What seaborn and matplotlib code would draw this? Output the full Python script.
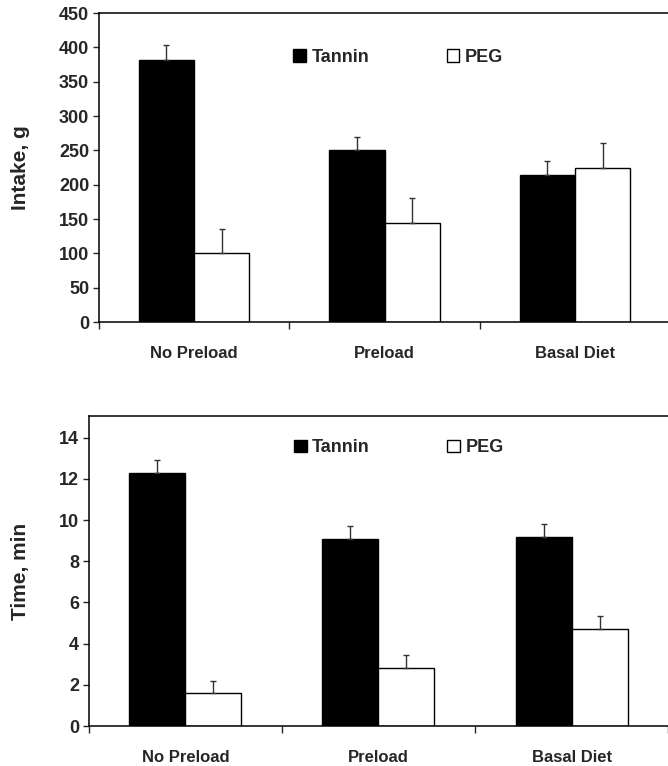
import numpy as np
import pandas as pd
import seaborn as sns
import matplotlib
matplotlib.use("Agg")
import matplotlib.pyplot as plt

# values
groups = ["No Preload", "Preload", "Basal Diet"]
treatments = ["Tannin", "PEG"]

intake_tannin = [381, 250, 214]
intake_peg = [100, 144, 225]
intake_tannin_se = [22, 20, 20]
intake_peg_se = [35, 36, 35]

time_tannin = [12.3, 9.1, 9.18]
time_peg = [1.6, 2.8, 4.72]
time_tannin_se = [0.63, 0.61, 0.63]
time_peg_se = [0.6, 0.64, 0.63]

sns.set_style("white")
plt.rcParams['font.family'] = ['Liberation Sans', 'DejaVu Sans']
plt.rcParams['font.weight'] = 'bold'


def makeFrame(tannin, peg, tannin_se, peg_se):
	return pd.DataFrame({
		"group": groups * 2,
		"treatment": [treatments[0]] * 3 + [treatments[1]] * 3,
		"value": list(tannin) + list(peg),
		"se": list(tannin_se) + list(peg_se),
	})


def drawPanel(ax, df, ylim, yticks, ylabel, legend_x, legend_y):
	sns.barplot(data=df, x="group", y="value", hue="treatment", hue_order=treatments,
		palette={"Tannin": "black", "PEG": "white"}, edgecolor="black", linewidth=1,
		width=0.58, gap=0, errorbar=None, ax=ax)

	# up-only error bars on each bar
	for bars, t in zip(ax.containers, treatments):
		sub = df[df["treatment"] == t]
		for patch, (_, row) in zip(bars, sub.iterrows()):
			xc = patch.get_x() + patch.get_width() / 2
			ax.errorbar(xc, row["value"], yerr=[[0], [row["se"]]], fmt="none",
				ecolor="#333333", elinewidth=1, capsize=2.5, capthick=1, zorder=3)

	ax.set_xlim(-0.5, 2.52)
	ax.set_ylim(*ylim)
	ax.set_yticks(yticks)
	ax.set_yticklabels([str(v) for v in yticks], fontsize=13, fontweight="bold")

	# boundary ticks between groups, labels centred on groups
	ax.set_xticks([-0.5, 0.5, 1.5, 2.5])
	ax.set_xticklabels([])
	ax.set_xticks([0, 1, 2], minor=True)
	ax.set_xticklabels(groups, minor=True, fontsize=12, fontweight="bold")
	ax.tick_params(axis="x", which="minor", length=0, pad=17)
	ax.tick_params(axis="x", which="major", direction="out", length=5, width=1, bottom=True)
	ax.tick_params(axis="y", direction="out", length=4, width=1, left=True, pad=3)

	ax.set_xlabel("")
	ax.set_ylabel(ylabel, fontsize=15, fontweight="bold", labelpad=21)

	for side in ["left", "top", "bottom"]:
		ax.spines[side].set_visible(True)
		ax.spines[side].set_color("black")
		ax.spines[side].set_linewidth(1.1)
	ax.spines["right"].set_visible(False)

	ax.legend(loc="center left", bbox_to_anchor=(legend_x, legend_y), ncol=2, frameon=False,
		handlelength=0.7, handleheight=0.7, handletextpad=0.3, columnspacing=4.3,
		prop={"size": 13, "weight": "bold"})


fig = plt.figure(figsize=(6.68, 7.66), dpi=100)
ax1 = fig.add_axes([0.148, 0.5796, 0.861, 0.4034])
ax2 = fig.add_axes([0.133, 0.0522, 0.873, 0.4047])

intake_df = makeFrame(intake_tannin, intake_peg, intake_tannin_se, intake_peg_se)
time_df = makeFrame(time_tannin, time_peg, time_tannin_se, time_peg_se)

drawPanel(ax1, intake_df, (0, 450), list(range(0, 451, 50)), "Intake, g", 0.31, 0.857)
drawPanel(ax2, time_df, (0, 15.05), list(range(0, 15, 2)), "Time, min", 0.324, 0.897)

fig.savefig("out.png", dpi=100)
